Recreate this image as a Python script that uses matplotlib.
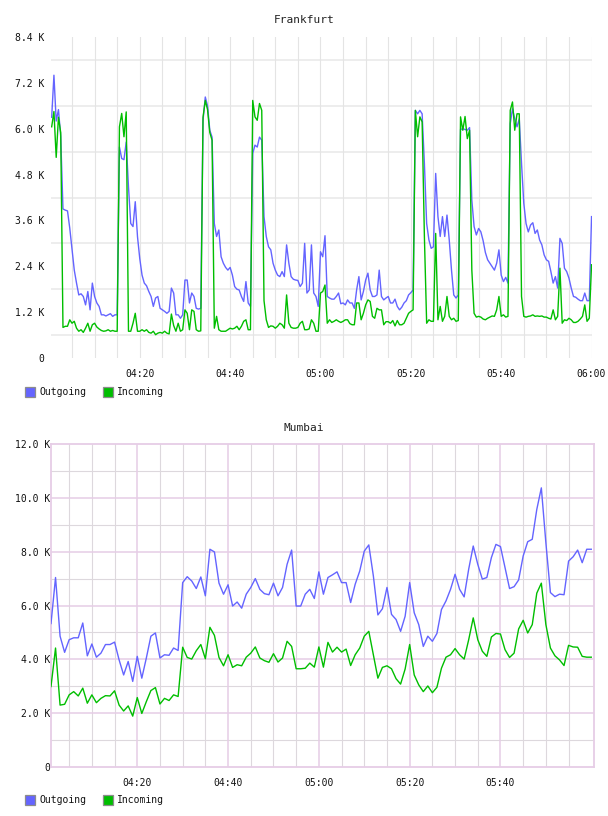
import matplotlib
matplotlib.use("Agg")
import matplotlib.pyplot as plt
from matplotlib.patches import Rectangle
import numpy as np

# Frankfurt: one sample every 30 s from 04:00, values in K
frankfurt_out = [
    6.3, 7.4, 6.2, 6.5, 5.8, 3.9, 3.87, 3.85, 3.4, 2.85,
    2.3, 1.96, 1.65, 1.68, 1.61, 1.39, 1.74, 1.26, 1.96, 1.61,
    1.44, 1.35, 1.13, 1.13, 1.1, 1.13, 1.16, 1.09, 1.13, 1.13,
    5.52, 5.22, 5.19, 5.65, 4.48, 3.52, 3.44, 4.09, 3.17, 2.6,
    2.17, 1.96, 1.89, 1.74, 1.61, 1.35, 1.57, 1.61, 1.3, 1.26,
    1.22, 1.17, 1.22, 1.83, 1.7, 1.13, 1.13, 1.04, 1.13, 2.04,
    2.04, 1.44, 1.7, 1.61, 1.3, 1.28, 1.3, 6.22, 6.83, 6.6,
    5.96, 5.78, 3.52, 3.18, 3.35, 2.65, 2.48, 2.37, 2.3, 2.37,
    2.17, 1.87, 1.8, 1.78, 1.61, 1.48, 2.0, 1.44, 1.35, 5.35,
    5.57, 5.52, 5.78, 5.7, 3.7, 3.18, 2.91, 2.83, 2.48, 2.3,
    2.17, 2.13, 2.26, 2.13, 2.96, 2.48, 2.13, 2.06, 2.04, 2.03,
    1.87, 1.96, 3.0, 1.7, 1.78, 2.96, 1.7, 1.61, 1.35, 2.78,
    2.65, 3.2, 1.61, 1.57, 1.54, 1.54, 1.61, 1.7, 1.42, 1.44,
    1.39, 1.52, 1.44, 1.44, 1.3, 1.78, 2.13, 1.52, 1.74, 2.04,
    2.22, 1.78, 1.61, 1.61, 1.65, 2.3, 1.61, 1.52, 1.57, 1.61,
    1.44, 1.44, 1.54, 1.35, 1.26, 1.33, 1.44, 1.5, 1.65, 1.71,
    1.78, 6.48, 6.39, 6.48, 6.39, 5.09, 3.52, 3.09, 2.87, 2.91,
    4.83, 3.7, 3.18, 3.7, 3.18, 3.74, 3.09, 2.3, 1.65, 1.57,
    1.65, 5.98, 6.0, 5.98, 5.96, 6.03, 4.13, 3.44, 3.22, 3.39,
    3.3, 3.07, 2.76, 2.57, 2.48, 2.39, 2.3, 2.48, 2.83, 2.17,
    2.0, 2.11, 1.96, 6.13, 6.52, 6.26, 6.05, 6.26, 5.09, 4.05,
    3.52, 3.3, 3.48, 3.54, 3.26, 3.35, 3.09, 2.96, 2.7, 2.57,
    2.53, 2.26, 1.96, 2.13, 1.83, 3.13, 3.0, 2.35, 2.26, 2.09,
    1.83, 1.61, 1.59, 1.54, 1.5, 1.5, 1.7, 1.5, 1.5, 3.7,
]
frankfurt_in = [
    6.05, 6.45, 5.25, 6.3, 5.9, 0.8, 0.83, 0.83, 1.0, 0.91,
    0.96, 0.78, 0.7, 0.74, 0.67, 0.78, 0.91, 0.7, 0.87, 0.91,
    0.81, 0.76, 0.72, 0.7, 0.71, 0.74, 0.7, 0.72, 0.7, 0.7,
    6.05, 6.4, 5.79, 6.44, 0.7, 0.7, 0.91, 1.17, 0.7, 0.7,
    0.74, 0.7, 0.74, 0.67, 0.65, 0.7, 0.61, 0.65, 0.67, 0.65,
    0.7, 0.65, 0.63, 1.15, 0.85, 0.7, 0.91, 0.7, 0.74, 1.26,
    1.17, 0.74, 1.26, 1.22, 0.74, 0.7, 0.71, 6.3, 6.74, 6.5,
    5.9, 5.7, 0.78, 1.09, 0.74, 0.7, 0.7, 0.7, 0.74, 0.78,
    0.76, 0.78, 0.83, 0.74, 0.83, 0.96, 1.0, 0.74, 0.74, 6.74,
    6.31, 6.22, 6.66, 6.48, 1.5, 1.0, 0.8, 0.84, 0.83, 0.78,
    0.83, 0.91, 0.87, 0.78, 1.65, 0.91, 0.8, 0.78, 0.78, 0.8,
    0.91, 0.96, 0.74, 0.74, 0.76, 1.0, 0.91, 0.7, 0.7, 1.7,
    1.74, 1.91, 0.91, 1.0, 0.93, 0.96, 1.0, 0.96, 0.93, 0.96,
    1.0, 1.0, 0.9, 0.87, 0.87, 1.44, 1.44, 1.0, 1.17, 1.39,
    1.52, 1.48, 1.09, 1.04, 1.3, 1.26, 1.26, 0.87, 0.95, 0.95,
    0.91, 0.98, 0.84, 0.98, 0.87, 0.87, 0.91, 1.04, 1.17, 1.22,
    1.26, 6.48, 5.79, 6.31, 6.18, 3.18, 0.91, 1.0, 0.96, 0.96,
    3.26, 1.0, 1.35, 0.96, 1.09, 1.61, 1.09, 1.0, 1.04, 0.96,
    0.98, 6.31, 5.96, 6.32, 5.74, 5.96, 2.3, 1.17, 1.07, 1.09,
    1.07, 1.02, 1.0, 1.04, 1.07, 1.1, 1.09, 1.26, 1.61, 1.09,
    1.13, 1.07, 1.09, 6.48, 6.7, 5.96, 6.39, 6.39, 1.61, 1.09,
    1.07, 1.09, 1.1, 1.13, 1.09, 1.1, 1.09, 1.1, 1.07, 1.07,
    1.04, 1.02, 1.26, 1.0, 1.09, 2.35, 0.91, 1.0, 0.98, 1.04,
    1.0, 0.93, 0.93, 0.96, 1.02, 1.09, 1.39, 0.96, 1.04, 2.44,
]

# Mumbai: one sample per minute from 04:01, values in K
mumbai_out = [
    5.33, 7.04, 4.86, 4.26, 4.73, 4.8, 4.8, 5.35, 4.13, 4.57,
    4.08, 4.23, 4.55, 4.55, 4.64, 3.98, 3.42, 3.92, 3.18, 4.11,
    3.3, 4.05, 4.86, 4.98, 4.05, 4.17, 4.15, 4.42, 4.33, 6.85,
    7.07, 6.91, 6.63, 7.06, 6.36, 8.09, 7.99, 6.83, 6.42, 6.77,
    5.98, 6.13, 5.9, 6.42, 6.67, 7.0, 6.6, 6.44, 6.4, 6.83,
    6.36, 6.67, 7.53, 8.06, 5.98, 5.98, 6.42, 6.6, 6.26, 7.25,
    6.42, 7.04, 7.14, 7.25, 6.85, 6.85, 6.11, 6.79, 7.28, 8.02,
    8.25, 7.1, 5.65, 5.88, 6.67, 5.67, 5.48, 5.04, 5.6, 6.85,
    5.73, 5.29, 4.48, 4.86, 4.67, 4.96, 5.85, 6.17, 6.6, 7.16,
    6.6, 6.32, 7.35, 8.21, 7.53, 6.98, 7.04, 7.78, 8.27, 8.19,
    7.41, 6.63, 6.7, 6.95, 7.84, 8.37, 8.46, 9.57, 10.37, 8.33,
    6.48, 6.33, 6.42, 6.4, 7.65, 7.81, 8.06, 7.59, 8.09, 8.09,
]
mumbai_in = [
    2.99, 4.42, 2.3, 2.33, 2.68, 2.8, 2.64, 2.93, 2.37, 2.68,
    2.39, 2.55, 2.65, 2.64, 2.83, 2.3, 2.08, 2.27, 1.89, 2.58,
    1.99, 2.43, 2.84, 2.95, 2.34, 2.55, 2.47, 2.68, 2.62, 4.45,
    4.07, 4.01, 4.32, 4.55, 4.02, 5.19, 4.89, 4.07, 3.76, 4.17,
    3.7, 3.8, 3.76, 4.08, 4.23, 4.46, 4.05, 3.95, 3.89, 4.21,
    3.9, 4.05, 4.67, 4.48, 3.65, 3.65, 3.67, 3.86, 3.71, 4.46,
    3.71, 4.63, 4.27, 4.45, 4.27, 4.38, 3.77, 4.17, 4.42, 4.86,
    5.04, 4.17, 3.3, 3.7, 3.76, 3.65, 3.28, 3.08, 3.64, 4.55,
    3.42, 3.05, 2.8, 3.01, 2.76, 2.96, 3.67, 4.08, 4.17, 4.4,
    4.17, 4.01, 4.73, 5.54, 4.73, 4.3, 4.11, 4.83, 4.96, 4.94,
    4.36, 4.07, 4.23, 5.13, 5.45, 4.98, 5.29, 6.46, 6.83, 5.29,
    4.42, 4.13, 3.98, 3.77, 4.52, 4.46, 4.45, 4.11, 4.08, 4.08,
]

series_names = ["Outgoing", "Incoming"]
series_colors = ["#6464ff", "#00be00"]
time_ticks = [20, 40, 60, 80, 100, 120]
time_labels = ["04:20", "04:40", "05:00", "05:20", "05:40", "06:00"]

MONO = "DejaVu Sans Mono"
W, H = 608, 816


def fx(px):
    return px / W


def fy(px):
    return 1 - px / H


def k_label(v):
    return "0" if v == 0 else f"{v:.1f} K"


def draw_legend(fig, y_px):
    xs = [24.5, 102.5]
    for x, name, color in zip(xs, series_names, series_colors):
        fig.patches.append(Rectangle((fx(x), fy(y_px + 5)), 10 / W, 10 / H,
                                     transform=fig.transFigure,
                                     facecolor=color, edgecolor="#8c8c8c", lw=0.9))
        fig.text(fx(x + 14.5), fy(y_px), name, fontsize=7, family=MONO,
                 va="center", ha="left", color="#111111")


fig = plt.figure(figsize=(6.08, 8.16), dpi=100)

# ---- Frankfurt ----
ax1 = fig.add_axes([fx(51), fy(358), fx(592 - 51), (358 - 37) / H])
t1 = np.arange(1, len(frankfurt_out) + 1) * 0.5
for y in np.arange(0.6, 8.4, 1.2):
    ax1.axhline(y, color="#ececec", lw=1.3, zorder=0)
for x in range(5, 121, 5):
    ax1.axvline(x, color="#e4e4e4", lw=0.8, zorder=0)
ax1.plot(t1, frankfurt_out, color=series_colors[0], lw=1.0, zorder=3)
ax1.plot(t1, frankfurt_in, color=series_colors[1], lw=1.0, zorder=4)
ax1.set_xlim(0.35, 120.1)
ax1.set_ylim(0, 8.4)
yt = np.round(np.arange(0, 8.41, 1.2), 1)
ax1.set_yticks(yt, [k_label(v) for v in yt])
ax1.set_xticks(time_ticks, time_labels)
for s in ax1.spines.values():
    s.set_visible(False)
ax1.tick_params(axis="y", length=0, pad=5, labelsize=7, labelcolor="#111111")
ax1.tick_params(axis="x", length=0, pad=8, labelsize=7, labelcolor="#111111")
for lab in ax1.get_xticklabels() + ax1.get_yticklabels():
    lab.set_family(MONO)
fig.text(0.5, fy(20), "Frankfurt", ha="center", va="center",
         fontsize=8, family=MONO, color="#222222")
draw_legend(fig, 392)

# ---- Mumbai ----
pink = "#e6cde6"
gray = "#ddd8dd"
ax2 = fig.add_axes([fx(51), fy(767), fx(594 - 51), (767 - 444) / H])
t2 = np.arange(len(mumbai_out)) + 1.0
for y in range(1, 12, 2):
    ax2.axhline(y, color=gray, lw=0.8, zorder=0)
for y in range(2, 12, 2):
    ax2.axhline(y, color=pink, lw=1.1, zorder=1)
for x in range(5, 120, 5):
    if x % 20:
        ax2.axvline(x, color=gray, lw=0.8, zorder=0)
    else:
        ax2.axvline(x, color=pink, lw=1.1, zorder=1)
ax2.plot(t2, mumbai_out, color=series_colors[0], lw=1.0, zorder=3)
ax2.plot(t2, mumbai_in, color=series_colors[1], lw=1.0, zorder=4)
ax2.set_xlim(1.0, 120.6)
ax2.set_ylim(0, 12)
yt2 = np.arange(0, 12.1, 2.0)
ax2.set_yticks(yt2, [k_label(v) for v in yt2])
ax2.set_xticks(time_ticks[:-1], time_labels[:-1])
for s in ax2.spines.values():
    s.set_color(pink)
    s.set_linewidth(1.3)
ax2.tick_params(axis="y", length=0, pad=0.5, labelsize=7, labelcolor="#111111")
ax2.tick_params(axis="x", length=0, pad=8, labelsize=7, labelcolor="#111111")
for lab in ax2.get_xticklabels() + ax2.get_yticklabels():
    lab.set_family(MONO)
fig.text(0.5, fy(428), "Mumbai", ha="center", va="center",
         fontsize=8, family=MONO, color="#222222")
draw_legend(fig, 800)

fig.savefig("out.png", dpi=100, facecolor="white")
